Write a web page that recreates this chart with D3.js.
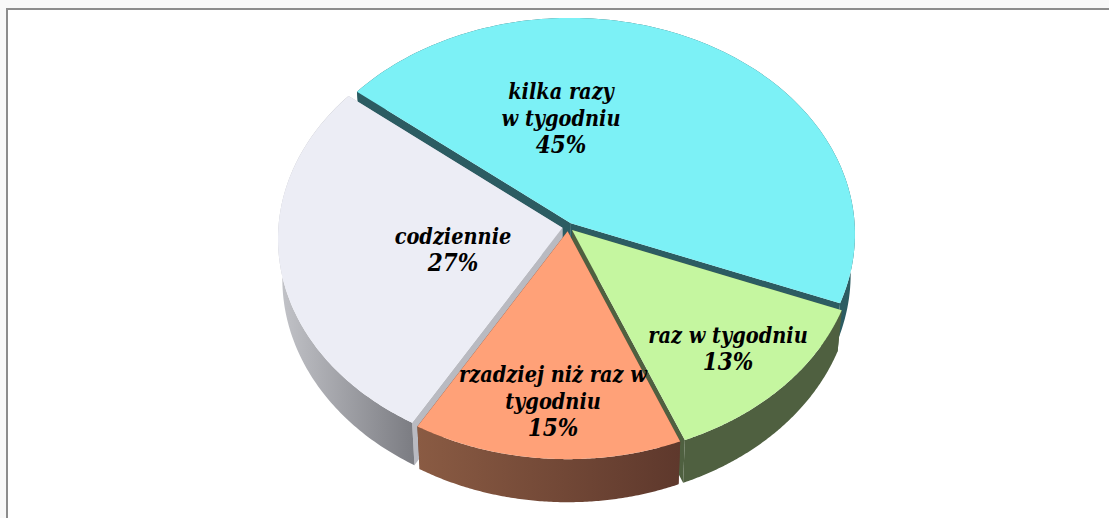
<!DOCTYPE html>
<html>
<head>
<meta charset="utf-8">
<script src="https://cdn.jsdelivr.net/npm/d3@7"></script>
<style>
  html, body { margin: 0; background: #f8f8f8; overflow: hidden; }
</style>
</head>
<body>
<div id="chart"></div>
<script>
// chart data, labels only show the rounded shares
const categories = ["kilka razy w tygodniu", "raz w tygodniu", "rzadziej niż raz w tygodniu", "codziennie"];
const shares = [45.1, 12.9, 14.6, 27.4];
const labelLines = [
    ["kilka razy", "w tygodniu", "45%"],
    ["raz w tygodniu", "13%"],
    ["rzadziej niż raz w", "tygodniu", "15%"],
    ["codziennie", "27%"]
];

// colours per slice
const topColors = ["#7cf1f6", "#c5f6a0", "#ffa178", "#ecedf5"];
const cutColors = ["#2c5c62", "#4f6040", "#5f3a2d", "#b9bac1"];
const wallFrom = ["#2c5c62", "#4f6040", "#8a5b43", "#c3c4c9"];
const wallTo = ["#2c5c62", "#4f6040", "#5e382c", "#7c7d83"];

// label anchors, centre of each text block
const labelAt = [[561, 118], [728, 348], [553, 401], [453, 249]];

const width = 1109, height = 518;
const cx = 568, cy = 227;      // pie centre on the page
const rx = 284, ry = 216;      // radii of the disc
const tilt = 0.05;             // perspective, far side smaller
const depth = 40;              // thickness of the disc
const lowShrink = 0.985;       // underside looks a bit narrower
const explode = 0.02;          // slice pull out
const lineHeight = 27;

const svg = d3.select("#chart")
    .append("svg")
    .attr("width", width)
    .attr("height", height)
    .style("display", "block");

// frame of the picture, runs off the right and bottom
svg.append("rect")
    .attr("x", 7)
    .attr("y", 9)
    .attr("width", width)
    .attr("height", height)
    .attr("fill", "#fff")
    .attr("stroke", "#8c8c8c")
    .attr("stroke-width", 2);

const pie = d3.pie()
    .sort(null)
    .startAngle(-51 * Math.PI / 180)
    .endAngle(309 * Math.PI / 180);
const slices = pie(shares);

// disc coords -> page
function project(a, r, mid, low) {
    const u = r * Math.sin(a) + explode * Math.sin(mid);
    const v = r * Math.cos(a) + explode * Math.cos(mid);
    const w = 1 + tilt * v;
    const x = rx * u / w;
    const y = cy - ry * v / w;
    if (low) return [cx + x * lowShrink, y + depth * (1 - tilt * v * 1.5)];
    return [cx + x, y];
}

const line = d3.line();
const defs = svg.append("defs");

slices.forEach(function (d, i) {
    const mid = (d.startAngle + d.endAngle) / 2;
    const steps = d3.range(0, 1.0001, 1 / 120).map(t => d.startAngle + t * (d.endAngle - d.startAngle));
    const topArc = steps.map(a => project(a, 1, mid, false));
    const lowArc = steps.map(a => project(a, 1, mid, true));

    const extent = d3.extent(topArc, p => p[0]);
    const grad = defs.append("linearGradient")
        .attr("id", "wall" + i)
        .attr("gradientUnits", "userSpaceOnUse")
        .attr("x1", extent[0]).attr("x2", extent[1])
        .attr("y1", 0).attr("y2", 0);
    grad.append("stop").attr("offset", 0).attr("stop-color", wallFrom[i]);
    grad.append("stop").attr("offset", 1).attr("stop-color", wallTo[i]);
    d.topArc = topArc;
    d.lowArc = lowArc;
    d.mid = mid;
});

// back to front: cyan, grey, green, orange
const order = [0, 3, 1, 2];
order.forEach(function (i) {
    const d = slices[i];
    const g = svg.append("g");
    const apex = project(0, 0, d.mid, false);
    const apexLow = project(0, 0, d.mid, true);
    const n = d.topArc.length - 1;

    // cut faces
    g.append("path")
        .attr("d", line([apex, d.topArc[0], d.lowArc[0], apexLow]) + "Z")
        .attr("fill", cutColors[i]);
    g.append("path")
        .attr("d", line([apex, d.topArc[n], d.lowArc[n], apexLow]) + "Z")
        .attr("fill", cutColors[i]);

    // outer wall
    g.append("path")
        .attr("d", line(d.topArc.concat(d.lowArc.slice().reverse())) + "Z")
        .attr("fill", "url(#wall" + i + ")");

    // top
    g.append("path")
        .attr("d", line([apex].concat(d.topArc)) + "Z")
        .attr("fill", topColors[i]);
});

// labels, the percent line is set a bit larger
labelLines.forEach(function (lines, i) {
    const t = svg.append("text")
        .attr("text-anchor", "middle")
        .attr("font-family", "'DejaVu Serif Condensed', 'Liberation Serif', serif")
        .attr("font-weight", "bold")
        .attr("font-style", "italic")
        .attr("font-size", 21.5)
        .attr("fill", "#000");
    lines.forEach(function (s, k) {
        t.append("tspan")
            .attr("x", labelAt[i][0])
            .attr("y", labelAt[i][1] + (k - (lines.length - 1) / 2) * lineHeight + 8)
            .attr("font-size", k === lines.length - 1 ? 24 : 21.5)
            .text(s);
    });
});
</script>
</body>
</html>
